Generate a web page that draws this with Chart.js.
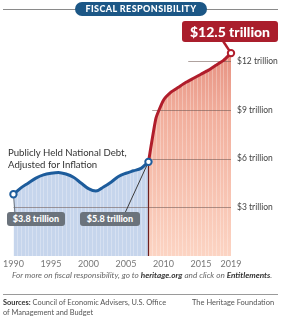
<!DOCTYPE html>
<html><head><meta charset="utf-8">
<script src="https://cdn.jsdelivr.net/npm/chart.js@4/dist/chart.umd.min.js"></script>
<style>
html,body{margin:0;padding:0;background:#fff;}
#wrap{position:relative;width:282px;height:320px;overflow:hidden;font-family:Lato,"Open Sans",sans-serif;}
canvas{position:absolute;left:0;top:0;}
.t{position:absolute;white-space:nowrap;}
#rule1{position:absolute;left:3px;top:9px;width:275px;height:1px;background:#8a8a8a;}
#title{position:absolute;left:75px;top:2px;width:132px;height:14px;border-radius:7px;background:#1c5786;color:#fff;font-weight:900;font-size:9px;line-height:14px;text-align:center;letter-spacing:0.4px;}
.box{position:absolute;color:#fff;font-weight:900;text-align:center;border-radius:3px;}
.grey{background:#6b737c;font-size:9px;height:14px;line-height:14px;}
#big{left:182px;top:21px;width:96px;height:21px;line-height:21px;background:#aa1e2c;font-size:14px;}
#rule2{position:absolute;left:3px;top:294px;width:275px;height:1px;background:#9a9a9a;}
</style></head>
<body><div id="wrap">
<canvas id="c" width="282" height="320"></canvas>
<div id="rule1"></div>
<div id="title">FISCAL RESPONSIBILITY</div>
<div class="box" id="big"></div>
<div class="t" style="left:8px;top:147px;font-size:9.6px;color:#333;line-height:12px;">Publicly Held National Debt,<br>Adjusted for Inflation</div>
<div class="box grey" id="lab1" style="left:7px;top:212px;width:58px;"></div>
<div class="box grey" id="lab2" style="left:80px;top:212px;width:60px;"></div>
<div class="t" style="left:12px;top:270px;font-size:8.2px;color:#666;font-style:italic;">For more on fiscal responsibility, go to <b style="color:#333">heritage.org</b> and click on <b style="color:#333">Entitlements</b>.</div>
<div id="rule2"></div>
<div class="t" style="left:3px;top:298px;font-size:7.4px;color:#555;line-height:10px;"><b style="color:#333">Sources:</b> Council of Economic Advisers, U.S. Office<br>of Management and Budget</div>
<div class="t" style="left:192px;top:298px;font-size:7.5px;color:#555;">The Heritage Foundation</div>
</div>
<script>
// ---- data (trillions of dollars, inflation-adjusted) ----
const bluePeriodYears = [1990,1991,1992,1993,1994,1995,1996,1997,1998,1999,2000,2001,2002,2003,2004,2005,2006,2007,2008];
const blueDebt        = [3.8, 4.2, 4.5, 4.8, 5.0, 5.1, 5.15, 5.05, 4.85, 4.5, 4.15, 4.0, 4.25, 4.55, 4.9, 5.1, 5.25, 5.4, 5.8];
const redPeriodYears  = [2008,2009,2010,2011,2012,2013,2014,2015,2016,2017,2018,2019];
const redDebt         = [5.8, 8.5, 9.6, 10.1, 10.4, 10.7, 10.95, 11.2, 11.45, 11.75, 12.05, 12.5];
const xTickYears = [1990,1995,2000,2005,2010,2015,2019];
const yTickValues = [3,6,9,12];

const fmt = v => '$' + v + ' trillion';
document.getElementById('big').textContent = fmt(redDebt[redDebt.length-1]);
document.getElementById('lab1').textContent = fmt(blueDebt[0]);
document.getElementById('lab2').textContent = fmt(blueDebt[blueDebt.length-1]);

const blueLine = '#1d5c9c', redLine = '#b01d2b';

const deco = {
  id:'deco',
  beforeDatasetsDraw(chart){
    const ctx = chart.ctx, a = chart.chartArea, xs = chart.scales.x, ys = chart.scales.y;
    ctx.save();
    // faint vertical stripes over the filled areas only
    ctx.globalCompositeOperation = 'source-atop';
    ctx.strokeStyle = 'rgba(255,255,255,0.28)';
    ctx.lineWidth = 1;
    for (let yr = 1990.5; yr < 2019; yr += 0.5) {
      const x = Math.round(xs.getPixelForValue(yr)) + 0.5;
      ctx.beginPath(); ctx.moveTo(x, a.top); ctx.lineTo(x, a.bottom); ctx.stroke();
    }
    ctx.globalCompositeOperation = 'source-over';
    // horizontal guide lines
    const starts = {3:1990, 6:2008.5, 9:2008.5, 12:2013.3};
    ctx.strokeStyle = 'rgba(110,85,80,0.55)';
    yTickValues.forEach(v => {
      const y = Math.round(ys.getPixelForValue(v)) + 0.5;
      ctx.beginPath();
      ctx.moveTo(xs.getPixelForValue(starts[v]), y);
      ctx.lineTo(xs.getPixelForValue(2019), y);
      ctx.stroke();
    });
    // divider at 2008
    const x8 = xs.getPixelForValue(2008);
    ctx.strokeStyle = '#6e2020';
    ctx.lineWidth = 1.2;
    ctx.beginPath(); ctx.moveTo(x8, ys.getPixelForValue(5.8)); ctx.lineTo(x8, a.bottom); ctx.stroke();
    // connectors for value labels
    ctx.strokeStyle = '#6b737c';
    ctx.lineWidth = 1;
    ctx.beginPath();
    ctx.moveTo(xs.getPixelForValue(1990), ys.getPixelForValue(blueDebt[0]));
    ctx.lineTo(xs.getPixelForValue(1990)+1.5, 213);
    ctx.stroke();
    ctx.strokeStyle = '#3c3c3c';
    ctx.beginPath();
    ctx.moveTo(x8, ys.getPixelForValue(5.8));
    ctx.lineTo(125, 213);
    ctx.stroke();
    // connector for big label
    ctx.strokeStyle = redLine;
    ctx.lineWidth = 2.5;
    ctx.beginPath();
    ctx.moveTo(223, 41);
    ctx.lineTo(xs.getPixelForValue(2019), ys.getPixelForValue(12.5));
    ctx.stroke();
    ctx.restore();
  }
};

const redGrad = (c) => {
  const a = c.chart.chartArea; if (!a) return '#f4b6a4';
  const g = c.chart.ctx.createLinearGradient(0, a.top, 0, a.bottom);
  g.addColorStop(0, '#e58e7e');
  g.addColorStop(0.35, '#f2b09e');
  g.addColorStop(1, '#fcd4c3');
  return g;
};

new Chart(document.getElementById('c'), {
  type:'line',
  data:{
    datasets:[
      { data: bluePeriodYears.map((x,i)=>({x, y: blueDebt[i]})),
        borderColor: blueLine, backgroundColor:'#c6d5ec', fill:'origin', borderWidth:3,
        cubicInterpolationMode:'monotone', clip:false,
        pointRadius: c => (c.dataIndex===0 || c.dataIndex===blueDebt.length-1) ? 3.2 : 0,
        pointBackgroundColor:'#fff', pointBorderColor: blueLine, pointBorderWidth:2 },
      { data: redPeriodYears.map((x,i)=>({x, y: redDebt[i]})),
        borderColor: redLine, backgroundColor: redGrad, fill:'origin', borderWidth:3,
        tension:0.15, clip:false,
        pointRadius: c => (c.dataIndex===redDebt.length-1) ? 3.2 : 0,
        pointBackgroundColor:'#fff', pointBorderColor: redLine, pointBorderWidth:2 }
    ]
  },
  options:{
    responsive:false, animation:false, devicePixelRatio:1,
    layout:{padding:{left:12, top:45, right:0, bottom:0}},
    plugins:{legend:{display:false}, tooltip:{enabled:false}, filler:{drawTime:'beforeDatasetsDraw'}},
    scales:{
      x:{ type:'linear', min:1990, max:2019,
        grid:{display:false, drawTicks:false}, border:{display:false},
        afterBuildTicks: s => { s.ticks = xTickYears.map(v=>({value:v})); },
        afterFit: s => { s.height = 64; },
        ticks:{ padding:3, color:'#777', font:{family:'Lato', size:9}, maxRotation:0, autoSkip:false,
          callback: v => String(v) } },
      y:{ position:'right', min:0, max:13,
        grid:{display:false, drawTicks:false}, border:{display:false},
        afterBuildTicks: s => { s.ticks = yTickValues.map(v=>({value:v})); },
        afterFit: s => { s.width = 51; },
        ticks:{ padding:6, color:'#444', font:{family:'Lato', size:8.5}, callback: v => fmt(v) } }
    }
  },
  plugins:[deco]
});
</script>
</body></html>
